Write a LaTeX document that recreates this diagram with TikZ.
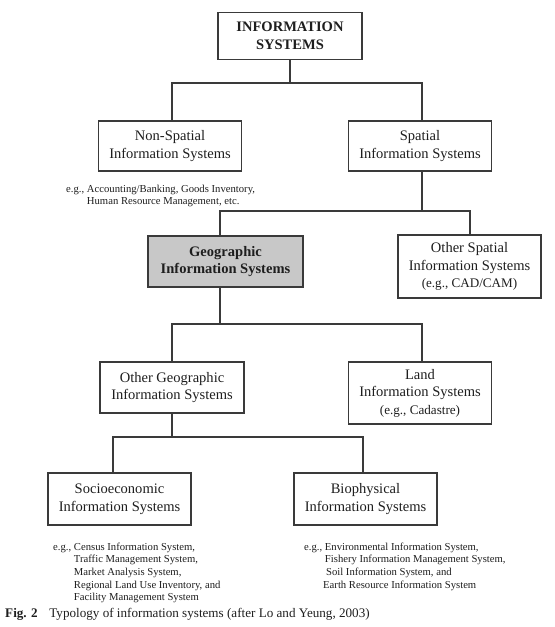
\documentclass[tikz,border=0pt]{standalone}
\usepackage{fontspec}
\setmainfont{Liberation Serif}
\usetikzlibrary{positioning}
\definecolor{linegray}{HTML}{3A3A3A}
\definecolor{gisgray}{HTML}{C8C8C8}
\definecolor{inkgray}{HTML}{1E1E1E}
\newlength\pxu
\setlength\pxu{0.03cm}
\newcommand\boxfont{\fontsize{12.4}{15}\selectfont}
\newcommand\subfont{\fontsize{11.2}{13.5}\selectfont}
\newcommand\egfont{\fontsize{9.1}{10.8}\selectfont}
\tikzset{
  sysbox/.style={draw=linegray, line width=1.3pt, fill=white, align=center,
    inner sep=0pt, minimum width=143\pxu, minimum height=50\pxu,
    text=inkgray, font=\boxfont},
  gisbox/.style={sysbox, fill=gisgray, font=\boxfont\bfseries},
  eglist/.style={inner sep=0pt, anchor=north west, text=inkgray, font=\egfont},
  conn/.style={draw=linegray, line width=1.2pt}
}

\begin{document}
\begin{tikzpicture}[x=\pxu, y=-\pxu]
\useasboundingbox (0,0) rectangle (554,627);

% boxes
\node[sysbox, minimum width=144\pxu, minimum height=47\pxu, font=\boxfont\bfseries] (info) at (290,36) {INFORMATION\\SYSTEMS};
\node[sysbox] (nonsp) at (170,146) {Non-Spatial\\Information Systems};
\node[sysbox] (spat) at (420,146) {Spatial\\Information Systems};
\node[gisbox, minimum width=155\pxu, minimum height=51\pxu] (gis) at (225.5,261.5) {Geographic\\Information Systems};
\node[sysbox, minimum height=63\pxu] (osp) at (469.5,266.5) {Other Spatial\\Information Systems\\{\subfont(e.g., CAD/CAM)}};
\node[sysbox, minimum width=144\pxu, minimum height=51\pxu] (ogeo) at (172,387.5) {Other Geographic\\Information Systems};
\node[sysbox, minimum height=62\pxu] (land) at (420,393) {Land\\Information Systems\\{\subfont(e.g., Cadastre)}};
\node[sysbox, minimum height=52\pxu] (socio) at (119.5,499) {Socioeconomic\\Information Systems};
\node[sysbox, minimum height=52\pxu] (bio) at (365.5,499) {Biophysical\\Information Systems};

% examples
\node[eglist] (egnonsp) at (66,183) {\begin{tabular}{@{}l@{ }l@{}}e.g., & Accounting/Banking, Goods Inventory,\\ & Human Resource Management, etc.\end{tabular}};
\node[eglist] (egsocio) at (53,541) {\begin{tabular}{@{}l@{ }l@{}}e.g., & Census Information System,\\ & Traffic Management System,\\ & Market Analysis System,\\ & Regional Land Use Inventory, and\\ & Facility Management System\end{tabular}};
\node[eglist] (egbio) at (304,541) {\begin{tabular}{@{}l@{ }l@{}}e.g., & Environmental Information System,\\ & Fishery Information Management System,\\ & \hspace{1pt}Soil Information System, and\\ & \hspace{-1.5pt}Earth Resource Information System\end{tabular}};

% bus lines
\coordinate (b1l) at (172,83);
\coordinate (b1r) at (422,83);
\coordinate (b2l) at (220,211);
\coordinate (b2r) at (470,211);
\coordinate (b3l) at (172,324);
\coordinate (b3r) at (422,324);
\coordinate (b4l) at (113,437);
\coordinate (b4r) at (363,437);

\draw[conn] (info.south) -- (info.south |- b1l)
  (b1l |- nonsp.north) -- (b1l) -- (b1r) -- (b1r |- spat.north);
\draw[conn] (b1r |- spat.south) -- (b1r |- b2r)
  (b2l |- gis.north) -- (b2l) -- (b2r) -- (b2r |- osp.north);
\draw[conn] (b2l |- gis.south) -- (b2l |- b3l)
  (b3l |- ogeo.north) -- (b3l) -- (b3r) -- (b3r |- land.north);
\draw[conn] (b3l |- ogeo.south) -- (b3l |- b4l)
  (b4l |- socio.north) -- (b4l) -- (b4r) -- (b4r |- bio.north);

% caption
\node[inner sep=0pt, anchor=base west, text=inkgray, font=\fontsize{11.2}{13.5}\selectfont] (caption) at (5,617) {\textbf{Fig. 2}\hspace{10pt}Typology of information systems (after Lo and Yeung, 2003)};
\end{tikzpicture}
\end{document}
